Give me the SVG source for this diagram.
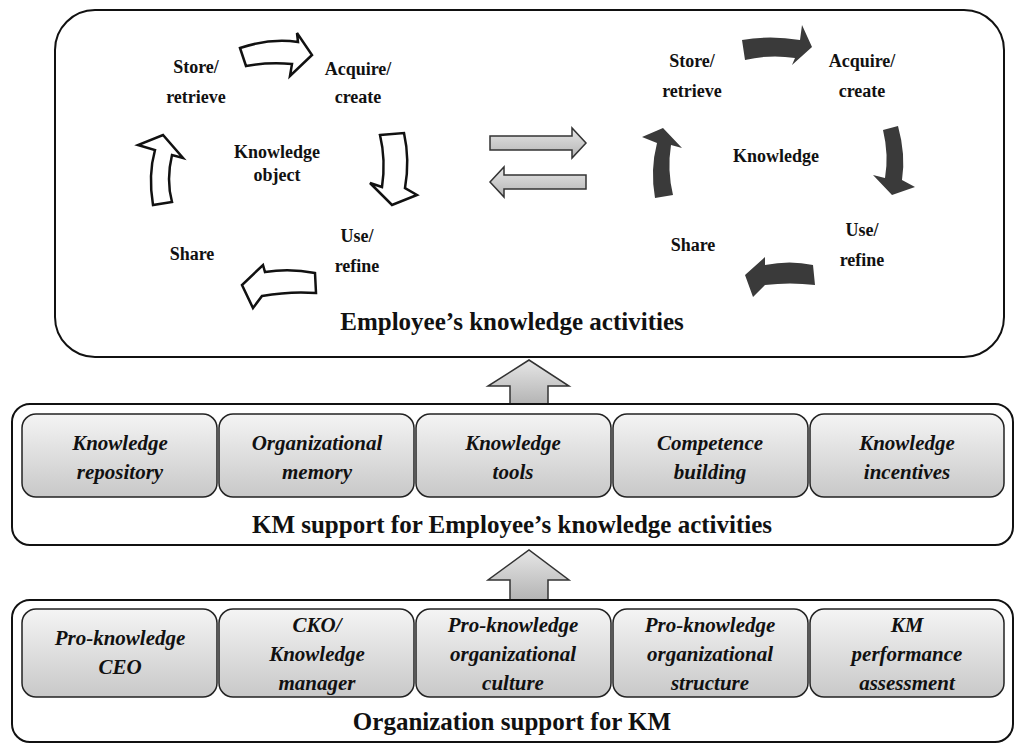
<svg xmlns="http://www.w3.org/2000/svg" width="1024" height="755" viewBox="0 0 1024 755" font-family="'Liberation Serif','Times New Roman','DejaVu Serif',serif">
<defs>
<linearGradient id="g" x1="0" y1="0" x2="0" y2="1"><stop offset="0" stop-color="#f4f4f4"/><stop offset="1" stop-color="#c8c8c8"/></linearGradient>
<linearGradient id="ga" x1="0" y1="0" x2="0" y2="1"><stop offset="0" stop-color="#e6e6e6"/><stop offset="1" stop-color="#b4b4b4"/></linearGradient>
</defs>
<style>
text{font-family:'Liberation Serif','Times New Roman','DejaVu Serif',serif;font-weight:bold;fill:#111;text-anchor:middle}
.s{font-size:18px}.t{font-size:25px}.i{font-size:21px;font-style:italic}
.frame{fill:#fff;stroke:#111;stroke-width:2}
.cell{fill:url(#g);stroke:#222;stroke-width:1.5}
.wa{fill:#fff;stroke:#111;stroke-width:2.5;stroke-linejoin:miter}
.da{fill:#3a3a3a;stroke:none}
.ga{fill:url(#ga);stroke:#333;stroke-width:1.5}
</style>
<g id="top">
<rect class="frame" x="55" y="10" width="949" height="347" rx="40"/>
<text class="s" x="196" y="73">Store/</text><text class="s" x="196" y="103">retrieve</text>
<text class="s" x="358" y="75">Acquire/</text><text class="s" x="358" y="103">create</text>
<text class="s" x="277" y="158">Knowledge</text><text class="s" x="277" y="181">object</text>
<text class="s" x="357" y="242">Use/</text><text class="s" x="357" y="272">refine</text>
<text class="s" x="192" y="260">Share</text>
<text class="s" x="692" y="67">Store/</text><text class="s" x="692" y="97">retrieve</text>
<text class="s" x="862" y="67">Acquire/</text><text class="s" x="862" y="97">create</text>
<text class="s" x="776" y="162">Knowledge</text>
<text class="s" x="862" y="236">Use/</text><text class="s" x="862" y="266">refine</text>
<text class="s" x="693" y="251">Share</text>
<text class="t" x="512" y="330">Employee’s knowledge activities</text>
</g>
<g id="cycle-left">
<path class="wa" d="M240,48 Q270,38 298,42 L297,33 L312,55 L290,76 L292,64 Q268,62 246,66 Z"/>
<path class="wa" d="M380,135 L404,133 Q410,160 405,188 L417,195 L392,205 L370,183 L382,187 Q386,160 380,135 Z"/>
<path class="wa" d="M315,273 Q290,268 265,272 L263,265 L242,285 L253,308 L262,296 Q290,291 316,293 Z"/>
<path class="wa" d="M153,205 Q148,175 155,150 L138,145 L163,135 L183,158 L172,155 Q166,180 172,202 Z"/>
</g>
<g id="cycle-right">
<path class="da" d="M742,40 Q770,35 800,40 L802,25 L812,47 L792,65 L795,58 Q770,54 745,60 Z"/>
<path class="da" d="M883,130 L898,126 Q906,155 902,180 L915,187 L892,195 L873,175 L885,178 Q889,155 883,130 Z"/>
<path class="da" d="M813,265 Q790,260 765,265 L765,257 L745,275 L753,297 L765,285 Q790,282 815,285 Z"/>
<path class="da" d="M655,198 Q650,170 657,143 L642,137 L663,128 L682,148 L671,145 Q667,170 673,195 Z"/>
</g>
<g id="connectors">
<path class="ga" d="M490,136 L572,136 L572,128 L586,143 L572,158 L572,150 L490,150 Z"/>
<path class="ga" d="M586,175 L504,175 L504,167 L490,182 L504,197 L504,189 L586,189 Z"/>
<path class="ga" d="M510,404 L510,386 L488,386 L529,360 L569,386 L548,386 L548,404 Z"/>
<path class="ga" d="M510,600 L510,580 L488,580 L529,550 L569,580 L548,580 L548,600 Z"/>
</g>
<g id="km-support">
<rect class="frame" x="12" y="404" width="1001" height="141" rx="18"/>
<rect class="cell" x="22" y="414" width="195" height="83" rx="14"/>
<rect class="cell" x="219" y="414" width="195" height="83" rx="14"/>
<rect class="cell" x="416" y="414" width="195" height="83" rx="14"/>
<rect class="cell" x="613" y="414" width="195" height="83" rx="14"/>
<rect class="cell" x="810" y="414" width="194" height="83" rx="14"/>
<text class="i" x="120" y="450">Knowledge</text><text class="i" x="120" y="479">repository</text>
<text class="i" x="317" y="450">Organizational</text><text class="i" x="317" y="479">memory</text>
<text class="i" x="513" y="450">Knowledge</text><text class="i" x="513" y="479">tools</text>
<text class="i" x="710" y="450">Competence</text><text class="i" x="710" y="479">building</text>
<text class="i" x="907" y="450">Knowledge</text><text class="i" x="907" y="479">incentives</text>
<text class="t" x="512" y="533">KM support for Employee’s knowledge activities</text>
</g>
<g id="org-support">
<rect class="frame" x="12" y="600" width="1001" height="142" rx="18"/>
<rect class="cell" x="22" y="609" width="195" height="88" rx="14"/>
<rect class="cell" x="219" y="609" width="195" height="88" rx="14"/>
<rect class="cell" x="416" y="609" width="195" height="88" rx="14"/>
<rect class="cell" x="613" y="609" width="195" height="88" rx="14"/>
<rect class="cell" x="810" y="609" width="194" height="88" rx="14"/>
<text class="i" x="120" y="645">Pro-knowledge</text><text class="i" x="120" y="674">CEO</text>
<text class="i" x="317" y="632">CKO/</text><text class="i" x="317" y="661">Knowledge</text><text class="i" x="317" y="690">manager</text>
<text class="i" x="513" y="632">Pro-knowledge</text><text class="i" x="513" y="661">organizational</text><text class="i" x="513" y="690">culture</text>
<text class="i" x="710" y="632">Pro-knowledge</text><text class="i" x="710" y="661">organizational</text><text class="i" x="710" y="690">structure</text>
<text class="i" x="907" y="632">KM</text><text class="i" x="907" y="661">performance</text><text class="i" x="907" y="690">assessment</text>
<text class="t" x="512" y="730">Organization support for KM</text>
</g>
</svg>
